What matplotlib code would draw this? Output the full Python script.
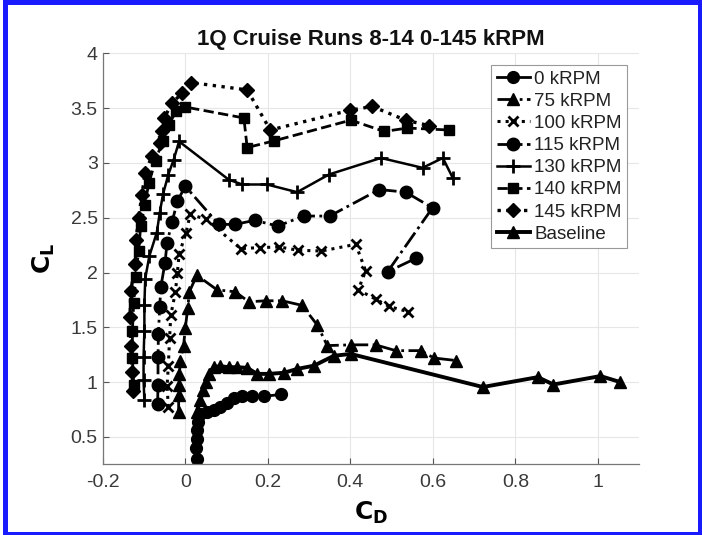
#!/usr/bin/env python3
"""
Lift vs drag polar for the 1Q cruise runs (8-14), 0-145 kRPM plus baseline.

Writes: out.png
"""

import matplotlib
matplotlib.use("Agg")
import matplotlib.pyplot as plt
from matplotlib.patches import Rectangle

plt.rcParams["font.family"] = ["Liberation Sans", "DejaVu Sans"]

# ---------------------------------------------------------------------------
# Data
# ---------------------------------------------------------------------------

CD_0 = [0.028, 0.027, 0.028, 0.028, 0.032, 0.036, 0.053, 0.069, 0.083, 0.100,
        0.117, 0.138, 0.162, 0.190, 0.231]
CL_0 = [0.296, 0.400, 0.485, 0.560, 0.636, 0.705, 0.727, 0.750, 0.773, 0.810,
        0.857, 0.870, 0.870, 0.870, 0.887]

CD_75 = [-0.016, -0.016, -0.015, -0.014, -0.012, -0.004, 0.000, 0.006, 0.010, 0.028,
         0.077, 0.121, 0.154, 0.196, 0.235, 0.283, 0.320, 0.344, 0.401, 0.461,
         0.510, 0.571, 0.602, 0.656]
CL_75 = [0.727, 0.878, 0.970, 1.075, 1.196, 1.333, 1.490, 1.673, 1.824, 1.975,
         1.842, 1.824, 1.733, 1.742, 1.742, 1.700, 1.520, 1.333, 1.340, 1.340,
         1.287, 1.287, 1.220, 1.197]

CD_100 = [-0.041, -0.044, -0.041, -0.038, -0.035, -0.024, -0.019, -0.015, 0.002, 0.012,
          0.051, 0.134, 0.180, 0.228, 0.273, 0.330, 0.413, 0.437, 0.419, 0.461,
          0.494, 0.540]
CL_100 = [0.773, 0.964, 1.150, 1.400, 1.612, 1.818, 2.000, 2.166, 2.364, 2.530,
          2.485, 2.218, 2.227, 2.233, 2.203, 2.196, 2.257, 2.015, 1.842, 1.757,
          1.690, 1.642]

CD_115 = [-0.067, -0.066, -0.066, -0.065, -0.062, -0.059, -0.049, -0.044, -0.032, -0.019,
          0.000, 0.081, 0.121, 0.168, 0.224, 0.287, 0.350, 0.470, 0.534, 0.599,
          0.490, 0.559]
CL_115 = [0.803, 0.976, 1.227, 1.440, 1.682, 1.872, 2.090, 2.273, 2.460, 2.651,
          2.787, 2.439, 2.439, 2.476, 2.424, 2.515, 2.515, 2.757, 2.733, 2.590,
          2.006, 2.130]

CD_130 = [-0.099, -0.101, -0.101, -0.099, -0.099, -0.097, -0.087, -0.069, -0.062, -0.054,
          -0.041, -0.028, -0.015, 0.105, 0.138, 0.198, 0.271, 0.348, 0.474, 0.575,
          0.624, 0.648]
CL_130 = [0.833, 1.015, 1.227, 1.470, 1.700, 1.945, 2.150, 2.364, 2.540, 2.712,
          2.894, 3.030, 3.196, 2.848, 2.803, 2.803, 2.733, 2.894, 3.045, 2.955,
          3.045, 2.864]

CD_140 = [-0.125, -0.128, -0.128, -0.125, -0.120, -0.113, -0.108, -0.098, -0.088, -0.072,
          -0.055, -0.040, -0.022, 0.000, 0.142, 0.150, 0.214, 0.401, 0.482, 0.538,
          0.640]
CL_140 = [0.970, 1.220, 1.470, 1.720, 1.960, 2.200, 2.420, 2.620, 2.820, 3.020,
          3.200, 3.350, 3.470, 3.510, 3.410, 3.140, 3.200, 3.390, 3.287, 3.318,
          3.300]

CD_145 = [-0.126, -0.129, -0.132, -0.134, -0.132, -0.121, -0.119, -0.113, -0.105, -0.097,
          -0.081, -0.062, -0.057, -0.051, -0.032, -0.008, 0.014, 0.150, 0.206, 0.399,
          0.453, 0.534, 0.591]
CL_145 = [0.920, 1.090, 1.330, 1.590, 1.830, 2.080, 2.300, 2.500, 2.710, 2.910,
          3.060, 3.180, 3.290, 3.410, 3.545, 3.636, 3.733, 3.666, 3.300, 3.480,
          3.515, 3.390, 3.340]

CD_BASE = [0.028, 0.036, 0.044, 0.051, 0.057, 0.069, 0.085, 0.105, 0.126, 0.150,
           0.174, 0.202, 0.239, 0.271, 0.312, 0.360, 0.401, 0.721, 0.854, 0.892,
           1.006, 1.054]
CL_BASE = [0.727, 0.833, 0.924, 1.000, 1.075, 1.136, 1.145, 1.136, 1.136, 1.130,
           1.075, 1.075, 1.085, 1.120, 1.150, 1.240, 1.257, 0.955, 1.045, 0.978,
           1.055, 1.000]

LABELS = ["0 kRPM", "75 kRPM", "100 kRPM", "115 kRPM",
          "130 kRPM", "140 kRPM", "145 kRPM", "Baseline"]

X_TICKS = [-0.2, 0, 0.2, 0.4, 0.6, 0.8, 1]
X_TICK_LABELS = ["-0.2", "0", "0.2", "0.4", "0.6", "0.8", "1"]
Y_TICKS = [0.5, 1, 1.5, 2, 2.5, 3, 3.5, 4]
Y_TICK_LABELS = ["0.5", "1", "1.5", "2", "2.5", "3", "3.5", "4"]

# (linestyle, marker, markersize, linewidth) per series
STYLES = [
    ("-", "o", 8.5, 2.0),
    ("-.", "^", 8.5, 2.0),
    (":", "x", 7.5, 2.2),
    ("-.", "o", 9.0, 2.0),
    ("-", "+", 10.0, 1.8),
    ("--", "s", 7.0, 2.0),
    (":", "D", 7.5, 2.4),
    ("-", "^", 9.0, 2.8),
]

W, H = 702, 535


def fig_box(fig, x0, y0, x1, y1, color):
    """Filled rectangle in figure pixel coords (y measured from the top)."""
    fig.add_artist(Rectangle((x0 / W, 1 - y1 / H), (x1 - x0) / W, (y1 - y0) / H,
                             transform=fig.transFigure, color=color, lw=0, zorder=10))


def main() -> None:
    fig = plt.figure(figsize=(W / 100, H / 100), dpi=100)
    ax = fig.add_axes([102.7 / W, 1 - 464.3 / H, 536.6 / W, 411.0 / H])

    series = [(CD_0, CL_0), (CD_75, CL_75), (CD_100, CL_100), (CD_115, CL_115),
              (CD_130, CL_130), (CD_140, CL_140), (CD_145, CL_145), (CD_BASE, CL_BASE)]

    for (cd, cl), label, (ls, mk, ms, lw) in zip(series, LABELS, STYLES):
        ax.plot(cd, cl, linestyle=ls, marker=mk, markersize=ms, linewidth=lw,
                color="black", markerfacecolor="black", markeredgecolor="black",
                markeredgewidth=2.0 if mk in "x+" else 1.0, label=label)

    ax.set_xlim(-0.2, 1.1)
    ax.set_ylim(0.25, 4)
    ax.set_xticks(X_TICKS)
    ax.set_xticklabels(X_TICK_LABELS)
    ax.set_yticks(Y_TICKS)
    ax.set_yticklabels(Y_TICK_LABELS)
    ax.tick_params(direction="in", length=4, labelsize=14, colors="#555555",
                   labelcolor="#3a3a3a")
    ax.tick_params(axis="x", pad=7)
    ax.grid(True, color="#e6e6e6", linewidth=0.8)
    ax.set_axisbelow(True)
    for side in ("top", "right"):
        ax.spines[side].set_visible(False)
    for side in ("left", "bottom"):
        ax.spines[side].set_color("#777777")
        ax.spines[side].set_linewidth(0.9)

    ax.set_title("1Q Cruise Runs 8-14 0-145 kRPM", fontsize=16, fontweight="bold",
                 pad=6, color="#111111")
    ax.set_xlabel(r"$\mathbf{C_D}$", fontsize=18, labelpad=6)
    ax.set_ylabel(r"$\mathbf{C_L}$", fontsize=18, labelpad=10)

    leg = ax.legend(loc="upper right", bbox_to_anchor=(0.9775, 0.972), fontsize=13.5,
                    handlelength=1.8, handletextpad=0.2, labelspacing=0.27,
                    borderpad=0.3, borderaxespad=0.0, fancybox=False, framealpha=1.0)
    leg.get_frame().set_edgecolor("#999999")
    leg.get_frame().set_linewidth(0.8)
    for text in leg.get_texts():
        text.set_color("#222222")

    # blue frame around the picture
    blue = "#1a1aff"
    fig_box(fig, 3, 0, W, 5, blue)
    fig_box(fig, 3, 0, 8, H, blue)
    fig_box(fig, W - 4, 0, W, H, blue)
    fig_box(fig, 3, H - 3, W, H, blue)

    fig.savefig("out.png", dpi=100)
    plt.close(fig)


if __name__ == "__main__":
    main()
